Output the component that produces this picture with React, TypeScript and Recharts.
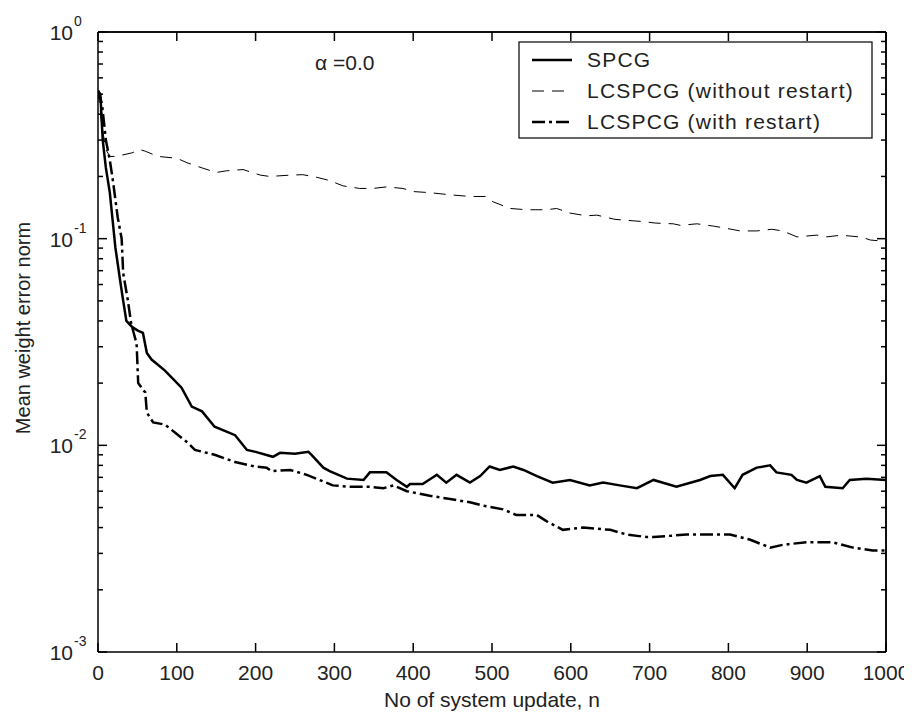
import React from "react";
import { LineChart, Line, XAxis, YAxis, ReferenceLine } from "recharts";

// SPCG (solid)
const spcgN = [0, 3, 6, 10, 15, 22, 28, 32, 36, 43, 50, 57, 62, 68, 85, 106, 119, 132, 148, 174, 189, 200, 222, 231, 250, 267, 271, 286, 294, 316, 337, 345, 366, 379, 392, 396, 412, 430, 442, 455, 472, 485, 497, 510, 527, 540, 557, 577, 599, 624, 641, 662, 684, 705, 734, 764, 777, 793, 808, 818, 836, 853, 861, 880, 887, 899, 916, 923, 945, 954, 975, 1000];
const spcgV = [0.52, 0.5, 0.3, 0.22, 0.167, 0.091, 0.063, 0.05, 0.04, 0.0375, 0.036, 0.035, 0.028, 0.026, 0.023, 0.019, 0.0154, 0.0146, 0.0123, 0.0112, 0.0095, 0.0093, 0.0088, 0.0092, 0.0091, 0.0093, 0.009, 0.0078, 0.0075, 0.0069, 0.0068, 0.0074, 0.0074, 0.0068, 0.0063, 0.0065, 0.0065, 0.0072, 0.0066, 0.0072, 0.0066, 0.0071, 0.0079, 0.0076, 0.0079, 0.0076, 0.0071, 0.0066, 0.0068, 0.0064, 0.0066, 0.0064, 0.0062, 0.0068, 0.0063, 0.0068, 0.0071, 0.0072, 0.0062, 0.0072, 0.0078, 0.008, 0.0074, 0.0072, 0.0068, 0.0066, 0.0071, 0.0063, 0.0062, 0.0068, 0.0069, 0.0068];

// LCSPCG without restart (thin dashed)
const noRestartN = [0, 5, 10, 15, 22, 33, 43, 53, 60, 76, 100, 113, 132, 150, 163, 184, 206, 218, 244, 260, 278, 294, 311, 332, 349, 366, 387, 400, 421, 447, 472, 493, 501, 523, 544, 569, 582, 599, 620, 633, 656, 679, 692, 707, 730, 739, 760, 781, 793, 815, 836, 855, 869, 887, 912, 925, 943, 970, 980, 1000];
const noRestartV = [0.52, 0.35, 0.27, 0.25, 0.25, 0.255, 0.26, 0.27, 0.265, 0.25, 0.245, 0.233, 0.22, 0.209, 0.213, 0.216, 0.203, 0.2, 0.203, 0.204, 0.198, 0.191, 0.18, 0.175, 0.175, 0.178, 0.175, 0.169, 0.167, 0.163, 0.16, 0.16, 0.151, 0.14, 0.138, 0.138, 0.14, 0.133, 0.129, 0.13, 0.124, 0.122, 0.121, 0.119, 0.118, 0.116, 0.118, 0.115, 0.113, 0.109, 0.109, 0.111, 0.109, 0.102, 0.104, 0.102, 0.104, 0.1016, 0.0985, 0.097];

// LCSPCG with restart (thick dash-dot)
const restartN = [0, 5, 10, 15, 19, 25, 30, 32, 38, 42, 49, 51, 60, 62, 70, 85, 98, 114, 123, 148, 174, 199, 214, 220, 244, 265, 298, 320, 345, 362, 375, 392, 421, 447, 472, 489, 514, 531, 557, 569, 590, 616, 650, 671, 696, 705, 747, 802, 827, 853, 869, 899, 932, 958, 983, 1000];
const restartV = [0.52, 0.45, 0.3, 0.24, 0.19, 0.127, 0.1, 0.068, 0.05, 0.039, 0.031, 0.02, 0.018, 0.0144, 0.0129, 0.0126, 0.0115, 0.0103, 0.0095, 0.009, 0.0083, 0.0079, 0.0078, 0.0075, 0.0076, 0.0072, 0.0064, 0.0063, 0.0063, 0.0062, 0.0064, 0.006, 0.0057, 0.0055, 0.0053, 0.0051, 0.0049, 0.0046, 0.0046, 0.0043, 0.0039, 0.004, 0.0039, 0.0037, 0.0036, 0.0036, 0.0037, 0.0037, 0.0035, 0.0032, 0.0033, 0.0034, 0.0034, 0.0032, 0.0031, 0.0031];

const xTicks = [0, 100, 200, 300, 400, 500, 600, 700, 800, 900, 1000];
const yTicks = [
  0.001, 0.002, 0.003, 0.004, 0.005, 0.006, 0.007, 0.008, 0.009,
  0.01, 0.02, 0.03, 0.04, 0.05, 0.06, 0.07, 0.08, 0.09,
  0.1, 0.2, 0.3, 0.4, 0.5, 0.6, 0.7, 0.8, 0.9, 1,
];

const legendItems = [
  { label: "SPCG", width: 2.5, dash: undefined },
  { label: "LCSPCG (without restart)", width: 1, dash: "12 8" },
  { label: "LCSPCG (with restart)", width: 2.5, dash: "13 4 3 4" },
];

const toRows = (ns: number[], vs: number[]) => ns.map((n, i) => ({ n, v: vs[i] }));
const spcgData = toRows(spcgN, spcgV);
const noRestartData = toRows(noRestartN, noRestartV);
const restartData = toRows(restartN, restartV);

const FONT = "'Liberation Sans', Arial, sans-serif";
const isMajor = (v: number) => Math.abs(Math.log10(v) - Math.round(Math.log10(v))) < 1e-9;

const BottomTick = (props: any) => {
  const { x, y, payload } = props;
  return (
    <g>
      <line x1={x} y1={y} x2={x} y2={y - 9} stroke="#000" strokeWidth={1.5} />
      <text x={x} y={y + 28} textAnchor="middle" fontSize={21} fontFamily={FONT} fill="#222">
        {payload.value}
      </text>
    </g>
  );
};

const TopTick = (props: any) => {
  const { x, y } = props;
  return <line x1={x} y1={y} x2={x} y2={y + 9} stroke="#000" strokeWidth={1.5} />;
};

const LeftTick = (props: any) => {
  const { x, y, payload } = props;
  const major = isMajor(payload.value);
  const exp = Math.round(Math.log10(payload.value));
  return (
    <g>
      <line x1={x} y1={y} x2={x + (major ? 9 : 5)} y2={y} stroke="#000" strokeWidth={1.5} />
      {major && (
        <g fontFamily={FONT} fill="#222">
          <text x={x - 25} y={y + 8} textAnchor="end" fontSize={21}>10</text>
          <text x={x - 24} y={y - 6} fontSize={14}>{exp}</text>
        </g>
      )}
    </g>
  );
};

const RightTick = (props: any) => {
  const { x, y, payload } = props;
  const major = isMajor(payload.value);
  return <line x1={x} y1={y} x2={x - (major ? 9 : 5)} y2={y} stroke="#000" strokeWidth={1.5} />;
};

const Annotations = () => (
  <g fontFamily={FONT} fill="#222">
    <text x={307} y={62} fontSize={21}>α =0.0</text>
    <rect x={511} y={34} width={353} height={96} fill="#fff" stroke="#000" strokeWidth={1.2} />
    {legendItems.map((item, i) => (
      <g key={item.label}>
        <line
          x1={524}
          x2={564}
          y1={52 + i * 31}
          y2={52 + i * 31}
          stroke="#000"
          strokeWidth={item.width}
          strokeDasharray={item.dash}
        />
        <text x={579} y={52 + i * 31 + 7} fontSize={21} letterSpacing={1.2}>
          {item.label}
        </text>
      </g>
    ))}
    <text x={484} y={699} textAnchor="middle" fontSize={21}>No of system update, n</text>
    <text x={22} y={320} textAnchor="middle" fontSize={20} transform="rotate(-90 22 320)">
      Mean weight error norm
    </text>
  </g>
);

export default function App() {
  return (
    <LineChart width={904} height={705} margin={{ top: 23, right: 25, bottom: 0, left: 0 }}>
      <XAxis
        xAxisId="bottom"
        dataKey="n"
        type="number"
        domain={[0, 1000]}
        ticks={xTicks}
        interval={0}
        height={61}
        tickSize={0}
        tickMargin={0}
        tickLine={false}
        axisLine={{ stroke: "#000", strokeWidth: 1.5 }}
        tick={<BottomTick />}
        allowDataOverflow
      />
      <XAxis
        xAxisId="top"
        orientation="top"
        dataKey="n"
        type="number"
        domain={[0, 1000]}
        ticks={xTicks}
        interval={0}
        height={1}
        tickSize={0}
        tickMargin={0}
        tickLine={false}
        axisLine={{ stroke: "#000", strokeWidth: 1.5 }}
        tick={<TopTick />}
        allowDataOverflow
      />
      <YAxis
        yAxisId="left"
        type="number"
        scale="log"
        domain={[0.001, 1]}
        ticks={yTicks}
        interval={0}
        width={90}
        tickSize={0}
        tickMargin={0}
        tickLine={false}
        axisLine={{ stroke: "#000", strokeWidth: 1.5 }}
        tick={<LeftTick />}
        allowDataOverflow
      />
      <YAxis
        yAxisId="right"
        orientation="right"
        type="number"
        scale="log"
        domain={[0.001, 1]}
        ticks={yTicks}
        interval={0}
        width={1}
        tickSize={0}
        tickMargin={0}
        tickLine={false}
        axisLine={{ stroke: "#000", strokeWidth: 1.5 }}
        tick={<RightTick />}
        allowDataOverflow
      />
      {/* frame borders, in case the mirrored axes draw no line */}
      <ReferenceLine xAxisId="bottom" yAxisId="left" y={1} stroke="#000" strokeWidth={1.5} ifOverflow="visible" />
      <ReferenceLine xAxisId="bottom" yAxisId="left" x={1000} stroke="#000" strokeWidth={1.5} ifOverflow="visible" />
      {/* invisible series so the mirrored top/right axes get drawn */}
      <Line
        xAxisId="top"
        yAxisId="right"
        data={spcgData}
        dataKey="v"
        type="linear"
        stroke="none"
        dot={false}
        activeDot={false}
        legendType="none"
        isAnimationActive={false}
      />
      <Line
        xAxisId="bottom"
        yAxisId="left"
        data={noRestartData}
        dataKey="v"
        type="linear"
        stroke="#000"
        strokeWidth={1}
        strokeDasharray="12 8"
        dot={false}
        isAnimationActive={false}
      />
      <Line
        xAxisId="bottom"
        yAxisId="left"
        data={restartData}
        dataKey="v"
        type="linear"
        stroke="#000"
        strokeWidth={2.5}
        strokeDasharray="13 4 3 4"
        dot={false}
        isAnimationActive={false}
      />
      <Line
        xAxisId="bottom"
        yAxisId="left"
        data={spcgData}
        dataKey="v"
        type="linear"
        stroke="#000"
        strokeWidth={2.5}
        dot={false}
        isAnimationActive={false}
      />
      <Annotations />
    </LineChart>
  );
}
